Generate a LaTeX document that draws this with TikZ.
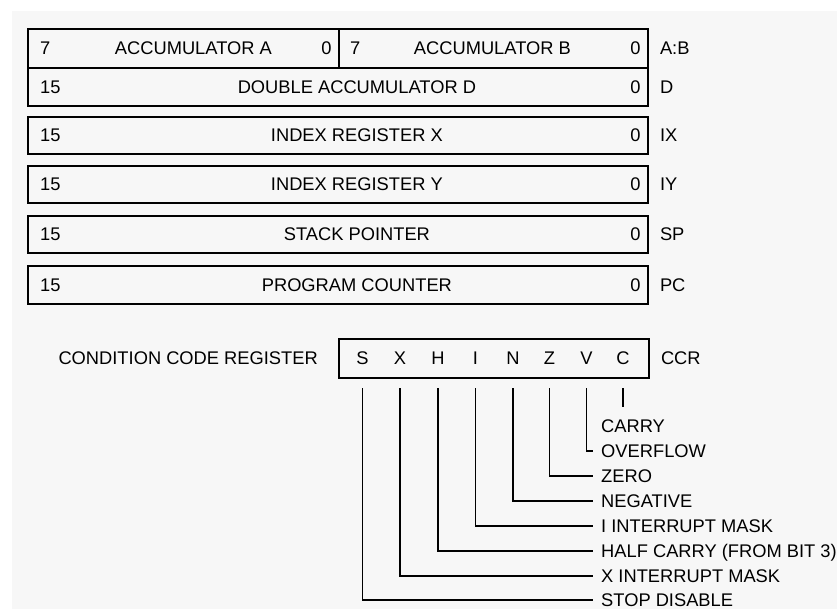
\documentclass[tikz,border=0pt]{standalone}
\usepackage{fontspec}
\setmainfont{Liberation Sans}
\begin{document}
\begin{tikzpicture}[x=1pt,y=-1pt,
  every node/.style={font=\fontsize{18.3}{21}\selectfont, inner sep=0pt, text height=13.1pt, text depth=0pt},
  regbox/.style={draw, line width=1.8pt, anchor=north west, minimum width=620pt, minimum height=38pt, text height=, text depth=},
  halfbox/.style={regbox, minimum width=311pt, minimum height=39pt},
  lnum/.style={anchor=west, xshift=13pt},
  rnum/.style={anchor=east, xshift=-8pt},
  rlab/.style={anchor=west, xshift=11pt},
  bit/.style={anchor=center},
  flag/.style={anchor=west, inner xsep=8pt},
  conn/.style={line width=1.5pt}
]
\useasboundingbox (0,0) rectangle (837,609);
\fill[black!3] (12,11) rectangle (837,609);

% Accumulators A and B
\node[halfbox] (accA) at (27,28) {};
\node[halfbox, minimum width=309pt] (accB) at (338,28) {};
\node[lnum] (aHi) at (accA.west) {7};
\node (aName) at (accA.center) [xshift=10pt] {ACCUMULATOR A};
\node[rnum] (aLo) at (accA.east) {0};
\node[lnum, xshift=-1pt] (bHi) at (accB.west) {7};
\node (bName) at (accB.center) [xshift=-1pt] {ACCUMULATOR B};
\node[rnum] (bLo) at (accB.east) {0};
\node[rlab] (labAB) at (accB.east) {A:B};

% Double accumulator D
\node[regbox] (accD) at (27,67) {};
\node[lnum] (dHi) at (accD.west) {15};
\node (dName) at (accD.center) [xshift=19pt] {DOUBLE ACCUMULATOR D};
\node[rnum] (dLo) at (accD.east) {0};
\node[rlab] (labD) at (accD.east) {D};

% Index register X
\node[regbox, minimum height=37pt] (regX) at (27,116) {};
\node[lnum] (xHi) at (regX.west) {15};
\node (xName) at (regX.center) [xshift=19pt] {INDEX REGISTER X};
\node[rnum] (xLo) at (regX.east) {0};
\node[rlab] (labX) at (regX.east) {IX};

% Index register Y
\node[regbox, minimum height=37pt] (regY) at (27,165) {};
\node[lnum] (yHi) at (regY.west) {15};
\node (yName) at (regY.center) [xshift=19pt] {INDEX REGISTER Y};
\node[rnum] (yLo) at (regY.east) {0};
\node[rlab] (labY) at (regY.east) {IY};

% Stack pointer
\node[regbox, minimum height=37pt] (regSP) at (27,215) {};
\node[lnum] (spHi) at (regSP.west) {15};
\node (spName) at (regSP.center) [xshift=19pt] {STACK POINTER};
\node[rnum] (spLo) at (regSP.east) {0};
\node[rlab] (labSP) at (regSP.east) {SP};

% Program counter
\node[regbox] (regPC) at (27,265) {};
\node[lnum] (pcHi) at (regPC.west) {15};
\node (pcName) at (regPC.center) [xshift=19pt] {PROGRAM COUNTER};
\node[rnum] (pcLo) at (regPC.east) {0};
\node[rlab] (labPC) at (regPC.east) {PC};

% Condition code register
\node[draw, line width=1.8pt, anchor=north west, minimum width=310pt, minimum height=39pt, text height=, text depth=] (ccr) at (338,338) {};
\node[anchor=east, xshift=-20pt] (ccrName) at (ccr.west) {CONDITION CODE REGISTER};
\node[rlab] (labCCR) at (ccr.east) {CCR};
\node[bit] (bS) at (362.5,357.5) {S};
\node[bit] (bX) at (400,357.5) {X};
\node[bit] (bH) at (438,357.5) {H};
\node[bit] (bI) at (475.5,357.5) {I};
\node[bit] (bN) at (513,357.5) {N};
\node[bit] (bZ) at (549.5,357.5) {Z};
\node[bit] (bV) at (586.5,357.5) {V};
\node[bit] (bC) at (623,357.5) {C};

\coordinate (ctop) at (0,388);
\coordinate (cbot) at (0,407);

\node[flag] (fC) at (593,426) {CARRY};
\node[flag] (fV) at (593,451) {OVERFLOW};
\node[flag] (fZ) at (593,476) {ZERO};
\node[flag] (fN) at (593,501) {NEGATIVE};
\node[flag] (fI) at (593,526) {I INTERRUPT MASK};
\node[flag] (fH) at (593,551) {HALF CARRY (FROM BIT 3)};
\node[flag] (fX) at (593,576) {X INTERRUPT MASK};
\node[flag] (fS) at (593,600) {STOP DISABLE};

\draw[conn] (ctop -| bC) -- (cbot -| bC);
\draw[conn] (ctop -| bV) -- (bV |- fV) -- (fV.west);
\draw[conn] (ctop -| bZ) -- (bZ |- fZ) -- (fZ.west);
\draw[conn] (ctop -| bN) -- (bN |- fN) -- (fN.west);
\draw[conn] (ctop -| bI) -- (bI |- fI) -- (fI.west);
\draw[conn] (ctop -| bH) -- (bH |- fH) -- (fH.west);
\draw[conn] (ctop -| bX) -- (bX |- fX) -- (fX.west);
\draw[conn] (ctop -| bS) -- (bS |- fS) -- (fS.west);
\end{tikzpicture}
\end{document}
